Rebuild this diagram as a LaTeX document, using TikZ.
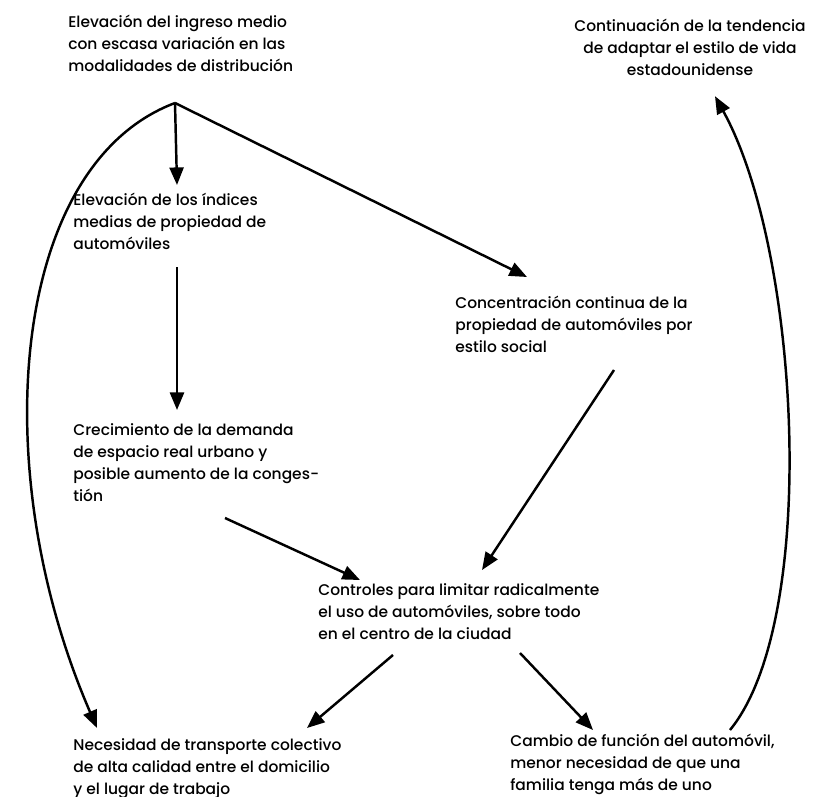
\documentclass[tikz,border=0pt]{standalone}
\usepackage{fontspec}
\setmainfont{Poppins}[UprightFont=* Medium]
\usetikzlibrary{arrows.meta,calc}

\begin{document}
\begin{tikzpicture}[x=0.02cm,y=-0.02cm,
  txt/.style={anchor=north west,align=left,inner sep=0pt,font=\fontsize{8.8}{12.5}\selectfont},
  arr/.style={line width=1.4pt,-{Triangle[length=10pt,width=8pt]}}]
\useasboundingbox[fill=white] (0,0) rectangle (814,797);
\coordinate (P) at (175,103);
\node[txt] (A) at (68,15) {Elevación del ingreso medio\\con escasa variación en las\\modalidades de distribución};
\node[txt,anchor=north,align=center] (B) at (690,19) {Continuación de la tendencia\\de adaptar el estilo de vida\\estadounidense};
\node[txt] (C) at (73,193) {Elevación de los índices\\medias de propiedad de\\automóviles};
\node[txt] (D) at (455,296) {Concentración continua de la\\propiedad de automóviles por\\estilo social};
\node[txt] (E) at (73,423) {Crecimiento de la demanda\\de espacio real urbano y\\posible aumento de la conges-\\tión};
\node[txt] (F) at (318,583) {Controles para limitar radicalmente\\el uso de automóviles, sobre todo\\en el centro de la ciudad};
\node[txt] (G) at (73,738) {Necesidad de transporte colectivo\\de alta calidad entre el domicilio\\y el lugar de trabajo};
\node[txt] (H) at (510,734) {Cambio de función del automóvil,\\menor necesidad de que una\\familia tenga más de uno};
% arrows
\draw[arr] (P) -- ($(C.north west)+(104,-8)$);
\draw[arr] (P) -- ($(D.north west)+(72,-19)$);
\draw[arr] (P) .. controls (10,165) and (-15,470) .. ($(G.north west)+(24,-10)$);
\draw[arr] ($(C.north west)+(104,74)$) -- ($(E.north west)+(104,-13)$);
\draw[arr] ($(E.north west)+(152,95)$) -- ($(F.north west)+(42,-3)$);
\draw[arr] ($(D.north west)+(159,74)$) -- ($(F.north west)+(164,-13)$);
\draw[arr] ($(F.north west)+(75,72)$) -- ($(G.north west)+(234,-10)$);
\draw[arr] ($(F.north west)+(202,70)$) -- ($(H.north west)+(83,-4)$);
\draw[arr] ($(H.north west)+(220,-4)$) .. controls (820,620) and (800,250) .. ($(B.south)+(25,20)$);
\end{tikzpicture}
\end{document}
